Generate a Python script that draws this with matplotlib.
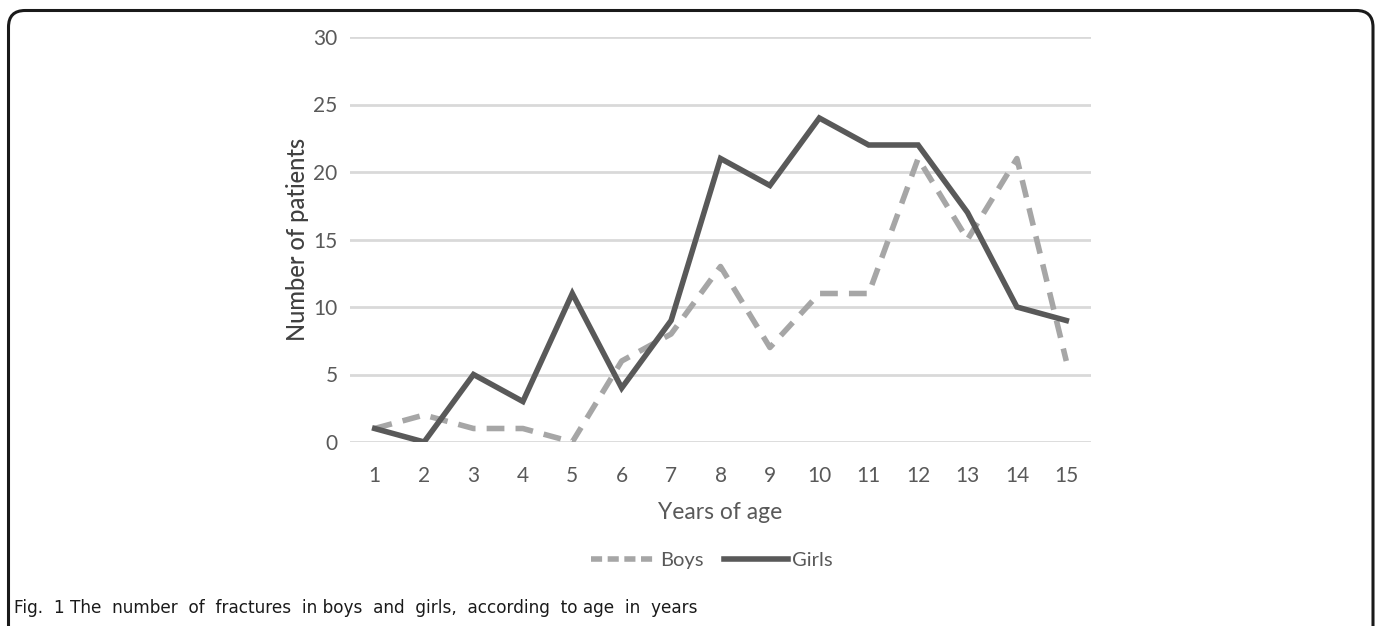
import matplotlib
matplotlib.use("Agg")
import matplotlib.pyplot as plt
from matplotlib.patches import FancyBboxPatch
from matplotlib.lines import Line2D

ages = list(range(1, 16))
boys = [1, 2, 1, 1, 0, 6, 8, 13, 7, 11, 11, 21, 15, 21, 6]
girls = [1, 0, 5, 3, 11, 4, 9, 21, 19, 24, 22, 22, 17, 10, 9]
yticks = [0, 5, 10, 15, 20, 25, 30]

plt.rcParams['font.family'] = ['Lato', 'DejaVu Sans']

fig = plt.figure(figsize=(13.83, 6.26), dpi=100)
fig.patch.set_facecolor('white')

# outer rounded border (bottom cut off)
border = FancyBboxPatch((8.5 / 1383, -0.05), (1373 - 8.5) / 1383, (626 - 10.5) / 626 + 0.05,
                        boxstyle="round,pad=0,rounding_size=0.012",
                        transform=fig.transFigure, fill=False,
                        edgecolor='#1a1a1a', linewidth=2.2, mutation_aspect=1383 / 626)
fig.patches.append(border)

ax = fig.add_axes([350 / 1383, (626 - 442) / 626, (1091 - 350) / 1383, (442 - 37) / 626])
ax.set_facecolor('white')

gray_dark = '#595959'
gray_light = '#a6a6a6'

ax.plot(ages, boys, color=gray_light, linewidth=4, linestyle=(0, (3.2, 2)),
        dash_capstyle='butt', solid_joinstyle='miter', label='Boys', zorder=3)
ax.plot(ages, girls, color=gray_dark, linewidth=4, solid_joinstyle='miter',
        label='Girls', zorder=4)

ax.set_xlim(0.5, 15.5)
ax.set_ylim(0, 30)
ax.set_yticks(yticks)
ax.set_xticks(ages)
ax.set_xticklabels([str(a) for a in ages])
ax.yaxis.grid(True, color='#d9d9d9', linewidth=2)
ax.set_axisbelow(True)
for s in ax.spines.values():
    s.set_visible(False)
ax.tick_params(axis='y', length=0, labelsize=15, colors='#595959', pad=9)
ax.tick_params(axis='x', length=0, labelsize=15, colors='#595959', pad=17)

ax.set_ylabel('Number of patients', fontsize=17, color='#404040', labelpad=3,
              fontweight='medium')
ax.set_xlabel('Years of age', fontsize=16.5, color='#595959', labelpad=12)

handles = [Line2D([0], [0], color=gray_light, linewidth=4, linestyle=(0, (2, 1))),
           Line2D([0], [0], color=gray_dark, linewidth=4)]
leg = fig.legend(handles, ['Boys', 'Girls'], loc='center', bbox_to_anchor=(712 / 1383, 1 - 560 / 626),
                 ncol=2, frameon=False, fontsize=14.5, handlelength=3.2, handletextpad=0.2,
                 columnspacing=1.0)
for t in leg.get_texts():
    t.set_color('#595959')

fig.text(14 / 1383, 1 - 608 / 626,
         'Fig.  1 The  number  of  fractures  in boys  and  girls,  according  to age  in  years',
         fontsize=12.2, family=['Liberation Sans Narrow', 'DejaVu Sans'], color='#1a1a1a',
         va='center', ha='left')

fig.savefig('out.png', dpi=100, facecolor='white')
